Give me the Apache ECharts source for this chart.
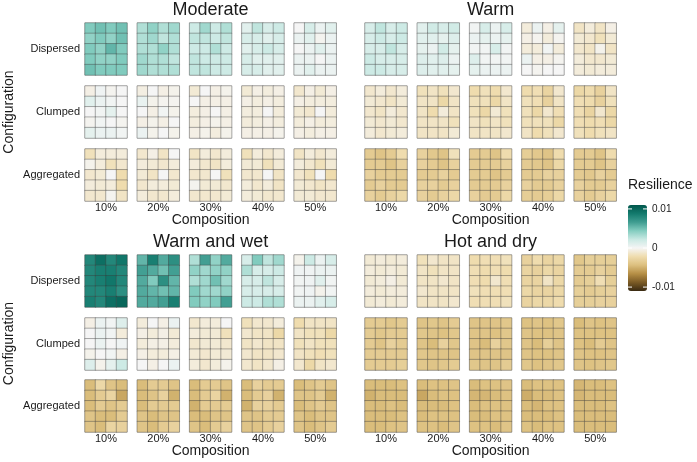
<!DOCTYPE html>
<html>
<head>
<meta charset="utf-8">
<script src="https://cdn.jsdelivr.net/npm/echarts@6.0.0/dist/echarts.min.js"></script>
<style>
  html, body { margin: 0; padding: 0; background: #fff; }
  #chart { width: 697px; height: 462px; }
</style>
</head>
<body>
<div id="chart"></div>
<script>
// resilience values in units of 0.001, each grid = 5 rows x 4 columns (top row first)
const climates = ['Moderate', 'Warm', 'Warm and wet', 'Hot and dry'];
const configurations = ['Dispersed', 'Clumped', 'Aggregated'];
const compositions = ['10%', '20%', '30%', '40%', '50%'];
const legendTicks = [0.01, 0, -0.01];

const moderateDispersed = [
  [[4.5,5,4.5,5],[4,4.5,4,5],[4.5,4,5.5,4.5],[4.5,4,4,4.5],[5,4.5,4.5,4.5]],
  [[3,4,3,3.5],[3,3.5,2.5,3],[3,3,4,3],[3.5,3,3,2.5],[3.5,3,3,3]],
  [[2,3.5,2,3],[2.5,2.5,2,2.5],[2,2,3,2],[2.5,2,2,2],[2.5,2.5,2,2]],
  [[1,2.5,1.5,2],[1.5,1.5,1,1.5],[1,1.5,2,1.5],[1.5,1,1,1],[1.5,1.5,1,1]],
  [[0,1.5,0.5,1],[0.5,1,-0.2,0.5],[0,0.5,1,0.5],[0.5,0.5,0,0.5],[0.5,1,0.5,0.5]]
];
const moderateClumped = [
  [[-0.5,0.3,-0.2,0],[1,0.5,0.2,0],[0,0.2,0.8,0],[-0.2,0.2,0,-0.2],[0.8,0.5,0.5,0.2]],
  [[-0.6,0,-0.5,-0.3],[0.6,-0.3,-0.2,-0.2],[0,-0.5,0.2,-0.3],[-0.5,-0.3,-0.5,0],[0.5,-0.3,0,-0.3]],
  [[-1,0,-0.5,-0.3],[0,-0.5,-0.5,-0.5],[-0.7,-0.5,0,-0.5],[-0.7,-0.5,-0.3,-0.5],[-0.5,-0.3,-0.7,-0.3]],
  [[-1,-0.5,-0.7,-0.5],[-0.5,-0.7,-0.5,-0.7],[-0.7,-0.7,0,-0.8],[-0.8,-0.7,-0.5,-0.7],[-0.5,-0.5,-0.5,-0.3]],
  [[-1.2,-0.5,-1,-0.5],[-0.5,-0.7,-0.7,-0.7],[-1,-1.2,0,-0.8],[-0.8,-0.5,-0.8,-0.7],[-0.5,-0.7,-0.5,-0.5]]
];
const moderateAggregated = [
  [[-1.8,-0.8,-0.8,-0.8],[-0.3,-0.8,-1.8,-1.2],[-1.2,-1,0,-2.2],[-0.8,-1,-0.8,-2.2],[-1.2,-1.2,-0.2,-1.5]],
  [[-1.2,-0.5,-1.5,0],[-0.8,-1,-1.2,-0.8],[-1,-1.5,0,-1.2],[-1.2,-0.8,-0.8,-1],[-0.8,-1.2,-1.2,-0.8]],
  [[-1.5,-0.8,-1.2,-0.8],[-0.8,-1.2,-1.5,-0.8],[-1.2,-1.2,0,-1.8],[-0.2,-1,-1,-1.2],[-1.2,-1.2,-1.2,-1]],
  [[-1.8,-0.8,-1.2,-0.8],[-1,-1,-1.8,-1],[-1.2,-1.2,0,-1.5],[-0.8,-1.2,-0.8,-1.5],[-0.8,-1,-1.2,-1.2]],
  [[-1.5,-0.8,-1.2,-0.8],[-0.8,-1.2,-1.8,-1],[-1.2,-1.8,0,-2.2],[-1,-1.2,-1.5,-1.2],[-1,-1,-1.2,-1.2]]
];

const warmDispersed = [
  [[1.5,2.5,1.5,2],[1.5,2,1.5,2],[1.5,1.5,2.5,1.5],[2,1.5,1.5,1.5],[2,2,1.5,1.5]],
  [[1,1.8,1.5,1.8],[1,1,0.8,1.2],[0.8,0.5,1.8,0.8],[1.2,1,1.2,0.5],[1.2,1,1,0.8]],
  [[0.2,1.5,0.5,1.5],[0.5,0.8,0.5,0.8],[0.2,0.2,1.5,0.2],[1.2,0.2,0.2,0.2],[0.8,0.5,0.5,0.5]],
  [[-0.8,0.5,-0.5,0.8],[-0.5,-0.2,-0.8,-0.2],[-0.8,-0.8,0.2,-0.8],[0.5,-0.5,-0.5,-0.2],[0,-0.2,0,0]],
  [[-1.5,-0.8,-1.5,-0.5],[-1,-1.2,-1.8,-1],[-1.2,-1.5,-0.3,-1.5],[-0.8,-1.2,-1.2,-1],[-0.8,-1,-0.8,-0.8]]
];
const warmClumped = [
  [[-1.2,-0.8,-1.2,-0.8],[-1,-1.2,-1.5,-1],[-1.2,-1.5,-0.8,-1.2],[-1,-1.2,-1,-1.2],[-0.8,-1.2,-1,-0.8]],
  [[-1.8,-1.5,-1.8,-1.2],[-1.5,-1.5,-2.5,-1.5],[-1.5,-2.2,-0.8,-1.5],[-1.5,-1.5,-1.5,-1.8],[-1.5,-1.5,-1.5,-1]],
  [[-2.2,-1.8,-2.2,-1.2],[-1.8,-1.8,-2.5,-1.5],[-1.8,-2.5,-1,-1.8],[-1.5,-1.8,-1.5,-1.8],[-1.5,-1.5,-1.5,-1.2]],
  [[-2.2,-2,-2.8,-1.2],[-1.8,-2,-3,-1.5],[-1.8,-2.5,-1.2,-2],[-1.8,-1.8,-1.8,-2.5],[-1.5,-2.2,-1.8,-1.2]],
  [[-2.5,-2.2,-3,-1.5],[-2,-2.2,-3,-1.8],[-2,-2.8,-1.2,-2.5],[-2,-2.2,-2,-2.5],[-1.8,-2.2,-1.8,-1.5]]
];
const warmAggregated = [
  [[-3.5,-4,-3.5,-2.2],[-3.5,-3.5,-4,-3],[-3,-3.5,-3.5,-3.5],[-3.5,-3,-3.5,-3.5],[-3,-3.5,-3,-2.5]],
  [[-3,-3.7,-4,-1.8],[-3,-3.5,-4,-3],[-3.5,-3.5,-3,-3.5],[-3,-3,-3.5,-3],[-3,-3.5,-3,-2.5]],
  [[-3.5,-3.5,-4,-2.2],[-3.5,-3.5,-3.5,-3],[-3.5,-3.5,-4,-3.5],[-3.5,-3.5,-3.5,-3],[-3,-3.5,-3.5,-2.5]],
  [[-3.3,-3.7,-4,-2.2],[-3.5,-3.7,-4,-2.5],[-3.5,-3.5,-3,-3],[-3,-3.5,-3.5,-3],[-3.3,-3.5,-3.3,-2.5]],
  [[-3.5,-3.5,-4,-2.2],[-3.5,-3.5,-4,-3],[-3.5,-3.7,-3,-3.5],[-3,-3.5,-3.5,-3],[-3,-3.5,-3,-2.5]]
];

const wetDispersed = [
  [[8,9.5,8,9],[8,8.5,8.5,8],[8,8.5,9,8],[8,8,8.5,7.5],[8.5,8,9.5,10]],
  [[5.5,8.5,6,7.5],[6.5,6,5,6.5],[6,4.5,7.5,5.5],[6,5.5,5,5.5],[6,6,6.5,8.5]],
  [[3,6.5,4,6],[4,3.5,4,4],[3,3.5,5,3.5],[4.5,3.5,3.5,4],[4.5,4,4.5,6.5]],
  [[1.5,4.5,2.5,3.5],[3,1.5,1.5,2],[1.5,1.5,2.5,1.5],[1.5,1.5,1.5,1.5],[2,2,3,3]],
  [[-0.3,2,0.5,1.5],[0.3,0.3,0.5,0.5],[0.2,0.3,1,0.2],[0.2,0.3,-0.3,0.2],[0.5,0.5,1,1.5]]
];
const wetClumped = [
  [[-0.5,0.5,0.2,1.2],[0,0.5,0.2,-0.8],[0,0.5,0,0.3],[-0.3,0,0.2,-0.5],[1.2,-0.3,0.8,2]],
  [[-0.8,0,-0.5,0.5],[-0.5,-0.8,-0.5,-1],[-0.8,-0.5,-0.5,-0.8],[-0.5,-0.8,-0.8,-0.5],[0,-0.5,0,0.5]],
  [[-1.2,-0.8,-0.8,0],[-0.8,-1,-1,-1.8],[-1.2,-1,-1,-1.2],[-1,-1.2,-1,-1],[-0.8,-1.2,-0.8,-0.3]],
  [[-1.8,-1.2,-1.2,-0.8],[-1.2,-1.5,-1.5,-2.5],[-1.5,-1.2,-1.5,-1.5],[-1.2,-1.5,-1.5,-1.2],[-1.2,-1.5,-1.2,-0.5]],
  [[-2.2,-1.5,-1.5,-1.5],[-1.5,-1.8,-1.8,-2.5],[-1.8,-1.5,-1.8,-1.8],[-1.5,-1.8,-2,-1.8],[-1.2,-2.5,-1.5,-1.2]]
];
const wetAggregated = [
  [[-4.5,-2.5,-4,-4.5],[-4.5,-3.5,-2.8,-5.5],[-4.5,-3.5,-4,-3.5],[-4,-4.5,-4.5,-3.5],[-4,-4.5,-2.8,-3]],
  [[-4.5,-3.5,-3.5,-4],[-4.5,-4,-3,-5],[-4.5,-3.5,-3.5,-3.5],[-4,-4.5,-4,-4],[-4,-4.5,-3.5,-3]],
  [[-4.5,-3.5,-3.5,-4],[-4.5,-3.5,-2.8,-5],[-5,-3.5,-3.5,-3.5],[-4.5,-4.5,-4,-4],[-4,-4.5,-3.5,-3]],
  [[-4.5,-3,-3.5,-3.5],[-4.5,-3.5,-3,-5],[-5,-3,-3,-3.5],[-4,-4,-3.5,-3.5],[-4,-4,-3.5,-3]],
  [[-4.5,-4,-3.5,-4],[-4,-4,-3.5,-5],[-4.5,-4,-3.5,-4],[-4,-4.5,-4,-4],[-4,-4.5,-4,-3.5]]
];

const hotDispersed = [
  [[-1,-0.8,-1,-0.8],[-0.8,-1,-0.8,-1],[-1,-0.8,-0.5,-1],[-0.8,-1,-0.8,-0.8],[-1,-0.8,-1,-0.8]],
  [[-1.8,-1.2,-1.5,-1.5],[-1.5,-1.8,-1.5,-1.5],[-1.5,-1.5,-1.2,-1.5],[-1.2,-1.5,-1.5,-1.5],[-1.5,-1.5,-1.5,-1.2]],
  [[-2.2,-2,-2,-1.8],[-2,-2.2,-2,-2.2],[-2,-2.2,-1.2,-2],[-1.8,-2,-2,-2],[-2,-2,-2,-1.8]],
  [[-3,-2.2,-2.8,-2.5],[-2.8,-3,-2.5,-2.8],[-2.8,-2.8,-1.5,-2.5],[-2.5,-2.8,-2.8,-2.5],[-2.8,-2.5,-2.5,-2.2]],
  [[-3.8,-3.2,-3.2,-3.2],[-3.5,-3.5,-3,-3.5],[-3.5,-3.2,-2,-3.2],[-3.2,-3.5,-3.2,-3],[-3.2,-3.2,-3,-3]]
];
const hotClumped = [
  [[-3.5,-3.5,-3.8,-3.5],[-3.5,-3.8,-3.5,-3.5],[-3.5,-4,-3,-3.5],[-3.5,-3.5,-3.5,-3.5],[-3.5,-3.5,-3.5,-3.2]],
  [[-4,-3.8,-4,-3.5],[-3.8,-4,-4.2,-3.8],[-4,-4.5,-3,-3.8],[-3.8,-4,-4,-4],[-3.8,-4,-3.8,-3.5]],
  [[-4,-4,-4,-3.8],[-4,-4,-4.2,-3.8],[-4,-4.5,-3,-3.8],[-4,-4,-4,-4],[-3.8,-4,-4,-3.5]],
  [[-4.2,-4,-4.2,-3.8],[-4,-4.2,-4.2,-4],[-4,-4.5,-3.2,-4],[-4,-4.2,-4.2,-4],[-3.8,-4.2,-4,-3.8]],
  [[-4.5,-4,-4.2,-4],[-4.2,-4.2,-4.2,-4.2],[-4.2,-4.5,-3.5,-4],[-4,-4.2,-4.2,-4],[-4,-4.2,-4,-3.8]]
];
const hotAggregated = [
  [[-4.5,-4.5,-4.5,-4.2],[-5,-4.5,-4.5,-4.5],[-4.5,-4.5,-4.2,-4.5],[-4.5,-4.5,-4.5,-4.2],[-4.5,-4.5,-4.2,-4]],
  [[-4.5,-4.2,-4.2,-4],[-5.5,-4.5,-4.2,-4.2],[-4.5,-4.5,-4.5,-4.2],[-4.5,-4.2,-4.2,-4.2],[-4.2,-4.2,-4.5,-4]],
  [[-4.5,-4.2,-4.2,-4],[-4.8,-4.8,-4.5,-4.2],[-4.5,-4.2,-4.2,-4.2],[-4.5,-4.5,-4.2,-4.2],[-4.2,-4.2,-4.5,-4]],
  [[-4.5,-4.2,-4.2,-4.2],[-5.2,-4.5,-4.5,-4.2],[-4.5,-4.8,-4.2,-4.2],[-4.5,-4.5,-4.5,-4.2],[-4.2,-4.5,-4.2,-4.2]],
  [[-4.8,-4.5,-4.5,-4.2],[-4.8,-4.5,-4.5,-4.5],[-4.5,-4.5,-4.5,-4.2],[-4.5,-4.5,-4.5,-4.5],[-4.5,-4.5,-4.5,-4.5]]
];

const panels = [
  [moderateDispersed, moderateClumped, moderateAggregated],
  [warmDispersed, warmClumped, warmAggregated],
  [wetDispersed, wetClumped, wetAggregated],
  [hotDispersed, hotClumped, hotAggregated]
];

// layout
const FONT = 'Liberation Sans, Arial, sans-serif';
const panelLeft = [85, 365];
const rowTops = [[23, 86, 149], [255, 318, 380]];
const colStep = 52.3, gw = 42, gh = 52;
const barTop = 205, barH = 86, barLeft = 628, barW = 19, vmin = -11, vmax = 11;

const grids = [], xAxes = [], yAxes = [], series = [], graphic = [];
const txt = (text, x, y, size, align, extra) => Object.assign({
  type: 'text', x: x, y: y,
  style: { text: text, font: size + 'px ' + FONT, fill: '#1a1a1a',
    align: align, textAlign: align, verticalAlign: 'middle', textVerticalAlign: 'middle' }
}, extra || {});

panels.forEach((panel, p) => {
  const half = p < 2 ? 0 : 1;
  const x0 = panelLeft[p % 2];
  const tops = rowTops[half];
  const cx = x0 + (4 * colStep + gw) / 2;
  panel.forEach((cfg, r) => {
    cfg.forEach((cells, c) => {
      const gi = grids.length;
      grids.push({ left: x0 + c * colStep, top: tops[r], width: gw, height: gh,
        show: true, borderColor: '#c4c4c4', borderWidth: 1, backgroundColor: 'transparent' });
      xAxes.push({ type: 'category', gridIndex: gi, data: ['1', '2', '3', '4'], show: false });
      yAxes.push({ type: 'category', gridIndex: gi, data: ['1', '2', '3', '4', '5'], inverse: true, show: false });
      const data = [];
      cells.forEach((row, yi) => row.forEach((v, xi) => data.push([xi, yi, v])));
      series.push({ type: 'heatmap', xAxisIndex: gi, yAxisIndex: gi, data: data,
        itemStyle: { borderColor: 'rgba(60,60,60,0.55)', borderWidth: 0.7 },
        emphasis: { disabled: true }, silent: true });
    });
  });
  // titles and axis labels
  graphic.push(txt(climates[p], cx, tops[0] - 13, 18, 'center'));
  const bottom = tops[2] + gh;
  compositions.forEach((lab, c) => graphic.push(txt(lab, x0 + c * colStep + gw / 2, bottom + 7, 11, 'center')));
  graphic.push(txt('Composition', cx, bottom + 19, 14, 'center'));
  if (p % 2 === 0) {
    configurations.forEach((lab, r) => graphic.push(txt(lab, x0 - 5, tops[r] + gh / 2, 11, 'right')));
    graphic.push(txt('Configuration', 0, 0, 14, 'center',
      { x: 9, y: (tops[0] + tops[2] + gh) / 2, rotation: Math.PI / 2 }));
  }
});

// legend title and ticks
graphic.push(txt('Resilience', barLeft, barTop - 20, 14, 'left'));
legendTicks.forEach(v => {
  const y = barTop + barH * (vmax - v * 1000) / (vmax - vmin);
  graphic.push(txt(String(v), barLeft + barW + 5, y, 10, 'left'));
  graphic.push({ type: 'line', shape: { x1: barLeft, y1: y, x2: barLeft + 4, y2: y }, style: { stroke: '#fff', lineWidth: 1 }, z: 100 });
  graphic.push({ type: 'line', shape: { x1: barLeft + barW - 4, y1: y, x2: barLeft + barW, y2: y }, style: { stroke: '#fff', lineWidth: 1 }, z: 100 });
});

const chart = echarts.init(document.getElementById('chart'), null, { renderer: 'canvas' });
chart.setOption({
  backgroundColor: '#fff',
  animation: false,
  grid: grids,
  xAxis: xAxes,
  yAxis: yAxes,
  visualMap: {
    type: 'continuous', min: vmin, max: vmax, calculable: false, hoverLink: false,
    left: barLeft, top: barTop, itemWidth: barW, itemHeight: barH, padding: 0,
    text: null, showLabel: false,
    seriesIndex: series.map((s, i) => i),
    inRange: { color: ['#3a2a12', '#7a5a25', '#b58e45', '#dcbf7e', '#efdcae', '#f5f5f5',
      '#c9e9e3', '#84cdc0', '#3f9d91', '#137a6d', '#01574c'] }
  },
  series: series,
  graphic: graphic
});
</script>
</body>
</html>
